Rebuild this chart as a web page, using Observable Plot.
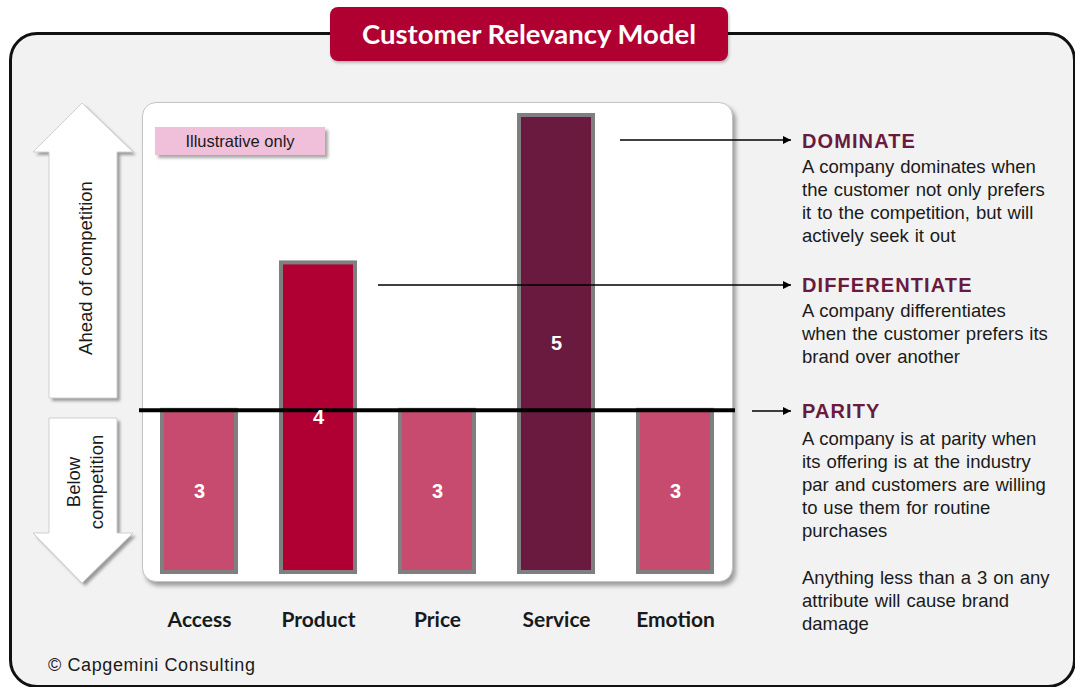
<!DOCTYPE html>
<html>
<head>
<meta charset="utf-8">
<script src="https://cdn.jsdelivr.net/npm/d3@7"></script>
<script src="https://cdn.jsdelivr.net/npm/@observablehq/plot@0.6"></script>
<style>
  html, body { margin: 0; padding: 0; background: #fff; }
  #root { position: relative; width: 1075px; height: 687px; overflow: hidden; background: #fff;
          font-family: "Liberation Sans", Arial, sans-serif; }
  .abs { position: absolute; }
  .frame { left: 9px; top: 32px; width: 1061px; height: 650px; border: 3px solid #111;
           border-radius: 28px; background: #f2f2f2; }
  .title { left: 330px; top: 7px; width: 398px; height: 54px; background: #b00032; border-radius: 8px;
           box-shadow: 1px 2px 3px rgba(0,0,0,0.25);
           color: #fff; font-family: Lato, "Open Sans", sans-serif; font-weight: bold; font-size: 27.5px;
           line-height: 54px; text-align: center; }
  .panel { left: 142px; top: 102px; width: 589px; height: 478px; background: #fff;
           border: 1.5px solid #c4c4c4; border-radius: 14px; box-shadow: 3px 4px 4px rgba(0,0,0,0.35); }
  .illus { left: 155px; top: 127px; width: 170px; height: 28px; background: #f0c0da;
           box-shadow: 3px 3px 3px rgba(0,0,0,0.35); font-size: 16.5px; line-height: 28px;
           text-align: center; color: #1a1a1a; }
  .head { left: 802px; font-weight: bold; font-size: 20px; line-height: 22px; color: #6b1a3f; letter-spacing: 1.1px; }
  .body { left: 802px; font-size: 18.5px; line-height: 23px; color: #1a1a1a; white-space: nowrap; word-spacing: 0.8px; }
  .copy { left: 48px; top: 654px; font-size: 18px; line-height: 22px; color: #1a1a1a; letter-spacing: 0.6px; }
  #plot { left: 0; top: 0; }
  svg.over { position: absolute; left: 0; top: 0; }
</style>
</head>
<body>
<div id="root">
  <div class="abs frame"></div>
  <div class="abs title">Customer Relevancy Model</div>
  <div class="abs panel"></div>

  <svg class="over" width="1075" height="687">
    <defs>
      <filter id="sh" x="-20%" y="-20%" width="140%" height="140%">
        <feGaussianBlur stdDeviation="1.5"/>
      </filter>
    </defs>
    <g transform="translate(3,3)" fill="#9a9a9a" filter="url(#sh)">
      <polygon points="82,103 133,152 117,152 117,398 49,398 49,152 33,152"/>
      <polygon points="49,418 117,418 117,533 133,533 82,583 33,533 49,533"/>
    </g>
    <g fill="#fff" stroke="#cfcfcf" stroke-width="1">
      <polygon points="82,103 133,152 117,152 117,398 49,398 49,152 33,152"/>
      <polygon points="49,418 117,418 117,533 133,533 82,583 33,533 49,533"/>
    </g>
    <g font-family="Liberation Sans, Arial, sans-serif" font-size="18.5" fill="#1a1a1a" text-anchor="middle" dominant-baseline="central">
      <text transform="translate(85,268) rotate(-90)">Ahead of competition</text>
      <text transform="translate(73,482) rotate(-90)">Below</text>
      <text transform="translate(96,482) rotate(-90)">competition</text>
    </g>
  </svg>

  <div class="abs illus">Illustrative only</div>
  <div id="plot" class="abs"></div>

  <svg class="over" width="1075" height="687">
    <defs>
      <marker id="ah" viewBox="0 0 10 10" refX="10" refY="5" markerWidth="10" markerHeight="8" markerUnits="userSpaceOnUse" orient="auto">
        <path d="M0,0 L10,5 L0,10 Z" fill="#000"/>
      </marker>
    </defs>
    <g stroke="#000" stroke-width="1.5" marker-end="url(#ah)">
      <line x1="620" y1="140" x2="791" y2="140"/>
      <line x1="378" y1="285" x2="791" y2="285"/>
      <line x1="752" y1="411" x2="791" y2="411"/>
    </g>
  </svg>

  <div class="abs head" style="top:130px">DOMINATE</div>
  <div class="abs body" style="top:154.5px">A company dominates when<br>the customer not only prefers<br>it to the competition, but will<br>actively seek it out</div>
  <div class="abs head" style="top:274px">DIFFERENTIATE</div>
  <div class="abs body" style="top:298.5px">A company differentiates<br>when the customer prefers its<br>brand over another</div>
  <div class="abs head" style="top:400px">PARITY</div>
  <div class="abs body" style="top:426.5px">A company is at parity when<br>its offering is at the industry<br>par and customers are willing<br>to use them for routine<br>purchases</div>
  <div class="abs body" style="top:565.5px">Anything less than a 3 on any<br>attribute will cause brand<br>damage</div>

  <div class="abs copy">© Capgemini Consulting</div>
</div>

<script>
// ---- data ----
const categories = ["Access", "Product", "Price", "Service", "Emotion"];
const scores = [3, 4, 3, 5, 3];
const parityLevel = 3;
const tierColors = { 3: "#c64b6e", 4: "#b00033", 5: "#6a1a3e" };
const yBase = 1.9;   // bottom of the scale domain
const yTop = 5;

const data = categories.map((c, i) => ({ category: c, score: scores[i] }));

const chart = Plot.plot({
  width: 1075,
  height: 687,
  marginLeft: 139,
  marginRight: 340,
  marginTop: 115,
  marginBottom: 115,
  style: { background: "transparent", overflow: "visible", color: "#1a1a1a" },
  x: { domain: categories, paddingInner: 0.38, paddingOuter: 0.19 },
  y: { domain: [yBase, yTop], axis: null },
  marks: [
    Plot.barY(data, {
      x: "category",
      y1: yBase,
      y2: "score",
      fill: d => tierColors[d.score],
      stroke: "#7f7f7f",
      strokeWidth: 4
    }),
    Plot.ruleY([parityLevel], { stroke: "#000", strokeWidth: 4 }),
    Plot.text(data, {
      x: "category",
      y: d => (yBase + d.score) / 2,
      text: d => String(d.score),
      fill: "#fff",
      fontSize: 20,
      fontWeight: "bold",
      fontFamily: "Liberation Sans, Arial, sans-serif"
    }),
    Plot.axisX({
      tickSize: 0,
      tickPadding: 40,
      label: null,
      fontSize: 21,
      fontWeight: "bold",
      fontFamily: "Lato, sans-serif",
      fill: "#1a1a1a"
    })
  ]
});
document.getElementById("plot").appendChild(chart);
</script>
</body>
</html>
